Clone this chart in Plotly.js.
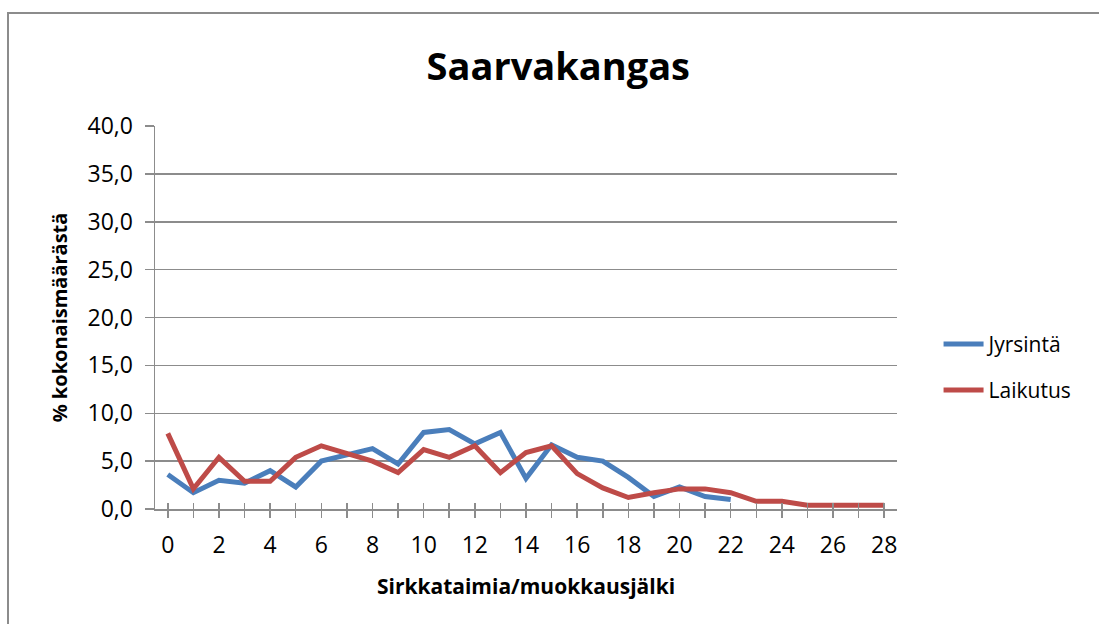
<!DOCTYPE html>
<html>
<head>
<meta charset="utf-8">
<script src="https://cdn.plot.ly/plotly-3.0.1.min.js"></script>
<style>
html,body{margin:0;padding:0;background:#fff;}
#frame{position:absolute;left:7px;top:12px;width:1200px;height:700px;border-left:2px solid #8c8c8c;border-top:2px solid #8c8c8c;}
#chart{position:absolute;left:0;top:0;width:1099px;height:624px;}
</style>
</head>
<body>
<div id="frame"></div>
<div id="chart"></div>
<script>
const xJyrsinta = [0,1,2,3,4,5,6,7,8,9,10,11,12,13,14,15,16,17,18,19,20,21,22];
const jyrsinta = [3.6,1.7,3.0,2.7,4.0,2.3,5.0,5.7,6.3,4.7,8.0,8.3,6.8,8.0,3.2,6.7,5.4,5.0,3.3,1.3,2.3,1.3,1.0];
const xLaikutus = [0,1,2,3,4,5,6,7,8,9,10,11,12,13,14,15,16,17,18,19,20,21,22,23,24,25,26,27,28];
const laikutus = [7.9,2.1,5.4,2.9,2.9,5.4,6.6,5.8,5.0,3.8,6.2,5.4,6.6,3.8,5.9,6.6,3.7,2.2,1.2,1.7,2.1,2.1,1.7,0.8,0.8,0.4,0.4,0.4,0.4];
const seriesNames = ["Jyrsintä","Laikutus"];
const titleText = "Saarvakangas";
const yTitle = "% kokonaismäärästä";
const xTitle = "Sirkkataimia/muokkausjälki";

const font = "Open Sans, Noto Sans, sans-serif";
const grid = "#8c8c8c";

const traces = [
  {x:xJyrsinta, y:jyrsinta, name:seriesNames[0], type:"scatter", mode:"lines",
   line:{color:"#4a7ebb", width:5}, legend:"legend"},
  {x:xLaikutus, y:laikutus, name:seriesNames[1], type:"scatter", mode:"lines",
   line:{color:"#be4b48", width:5}, legend:"legend2"},
  {x:[0], y:[0], xaxis:"x2", yaxis:"y", mode:"none", showlegend:false, hoverinfo:"skip"}
];

const legendBase = {xanchor:"left", yanchor:"middle", bgcolor:"rgba(0,0,0,0)",
  font:{family:font, size:21, color:"#000"}, itemwidth:40};

const layout = {
  width:1099, height:624,
  paper_bgcolor:"rgba(0,0,0,0)", plot_bgcolor:"rgba(0,0,0,0)",
  margin:{l:155, r:202, t:126, b:115},
  separators:", ",
  title:{text:"<b>"+titleText+"</b>", font:{family:font, size:38, color:"#000"},
         x:0.508, xanchor:"center", y:0.893, yanchor:"middle"},
  xaxis:{range:[-0.5,28.5], tickmode:"linear", tick0:0, dtick:2,
    ticks:"outside", ticklen:7, tickcolor:grid, tickwidth:1.5,
    minor:{ticks:"outside", dtick:1, tick0:0, ticklen:7, tickcolor:grid, tickwidth:1.5, showgrid:false},
    showline:true, linecolor:grid, linewidth:1.5, showgrid:false, zeroline:false,
    ticklabelstandoff:8,
    tickfont:{family:font, size:23, color:"#000"},
    title:{text:"<b>"+xTitle+"</b>", font:{family:font, size:21, color:"#000"}, standoff:20}},
  xaxis2:{range:[-0.5,28.5], overlaying:"x", anchor:"y", side:"bottom", tickmode:"linear", tick0:0, dtick:1,
    ticks:"inside", ticklen:6, tickcolor:grid, tickwidth:1.5, showticklabels:false,
    showline:false, showgrid:false, zeroline:false},
  yaxis:{range:[0,40], dtick:5, tickformat:".1f",
    ticks:"outside", ticklen:9, tickcolor:grid, tickwidth:1.5,
    showline:true, linecolor:grid, linewidth:1.5, showgrid:true, gridcolor:grid, gridwidth:1.5,
    zeroline:false, ticklabelstandoff:7, tickfont:{family:font, size:23, color:"#000"},
    title:{text:"<b>"+yTitle+"</b>", font:{family:font, size:20, color:"#000"}, standoff:14}},
  showlegend:true,
  legend:Object.assign({x:1.056, y:0.43}, legendBase),
  legend2:Object.assign({x:1.056, y:0.31}, legendBase)
};

Plotly.newPlot("chart", traces, layout, {displayModeBar:false, staticPlot:true});
</script>
</body>
</html>
